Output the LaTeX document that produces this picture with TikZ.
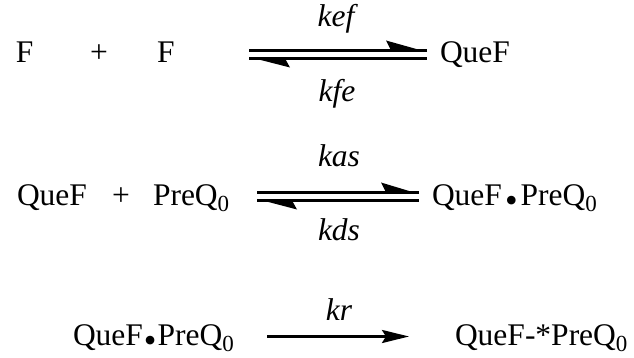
\documentclass[tikz,border=0pt]{standalone}
\usepackage{fontspec}
\setmainfont{Liberation Serif}
\usetikzlibrary{arrows.meta,calc}
\newcommand{\subz}{\raisebox{-6.5pt}{\fontsize{23}{23}\selectfont 0}}
\newcommand{\bdotA}{\hspace{3pt}\raisebox{-7.5pt}{\fontsize{36}{36}\selectfont •}\hspace{3pt}}
\newcommand{\bdotB}{\hspace{1pt}\raisebox{-7.5pt}{\fontsize{36}{36}\selectfont •}\hspace{1pt}}
\tikzset{
  txt/.style={inner sep=0pt, outer sep=0pt, anchor=base west, font=\fontsize{31.5}{36}\selectfont},
  ctxt/.style={inner sep=0pt, outer sep=0pt, anchor=base, font=\fontsize{31.5}{36}\selectfont},
  rate/.style={inner sep=0pt, outer sep=0pt, anchor=base, font=\fontsize{31.5}{36}\selectfont\itshape},
  bar/.style={line width=3pt, line cap=butt},
  onearrow/.style={line width=2.6pt, -{Stealth[length=27pt,width=13pt,inset=4pt]}}
}
\begin{document}
\begin{tikzpicture}[x=1pt,y=-1pt]
\useasboundingbox (0,0) rectangle (634,358);
% row 1
\node[txt] (f1) at (16,63) {F};
\node[ctxt] (p1) at (99,63) {+};
\node[txt] (f2) at (157,63) {F};
\node[txt] (q1) at (440,63) {QueF};
\node[rate] (kef) at (336,27) {kef};
\node[rate] (kfe) at (337,102) {kfe};
\coordinate (a1l) at (249,50.5);
\coordinate (a1r) at (427,50.5);
\coordinate (b1l) at (249,58.5);
\coordinate (b1r) at (427,58.5);
\draw[bar] (a1l) -- (a1r);
\draw[bar] (b1l) -- (b1r);
\fill ($(a1r)+(0,1.5)$) -- ($(a1r)+(-41,-10)$) -- ($(a1r)+(-36,0)$) -- cycle;
\fill ($(b1l)+(0,-1.5)$) -- ($(b1l)+(41,9)$) -- ($(b1l)+(36,0)$) -- cycle;
% row 2
\node[txt] (q2) at (17,205) {QueF};
\node[ctxt] (p2) at (121,205) {+};
\node[txt] (pr2) at (153,205) {PreQ\subz};
\node[txt] (c2) at (432,205) {QueF\bdotA PreQ\subz};
\node[rate] (kas) at (339,167) {kas};
\node[rate] (kds) at (339,240) {kds};
\coordinate (a2l) at (257,192.5);
\coordinate (a2r) at (419,192.5);
\coordinate (b2l) at (257,200.5);
\coordinate (b2r) at (419,200.5);
\draw[bar] (a2l) -- (a2r);
\draw[bar] (b2l) -- (b2r);
\fill ($(a2r)+(0,1.5)$) -- ($(a2r)+(-38,-10)$) -- ($(a2r)+(-33,0)$) -- cycle;
\fill ($(b2l)+(0,-1.5)$) -- ($(b2l)+(40,9)$) -- ($(b2l)+(35,0)$) -- cycle;
% row 3
\node[txt] (c3) at (73,345) {QueF\bdotB PreQ\subz};
\node[txt] (s3) at (455,345) {QueF-*PreQ\subz};
\node[rate] (kr) at (339,320) {kr};
\coordinate (a3l) at (267,336.5);
\coordinate (a3r) at (409,336.5);
\draw[onearrow] (a3l) -- (a3r);
\end{tikzpicture}
\end{document}
